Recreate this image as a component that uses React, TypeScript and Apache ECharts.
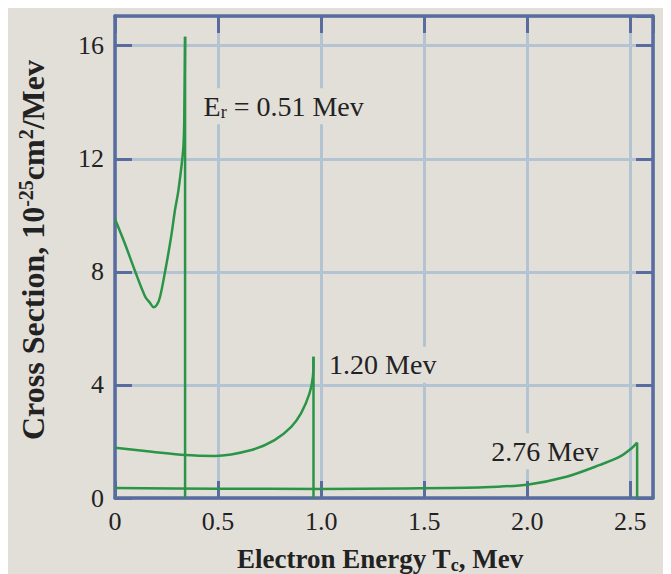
import React, { useEffect, useRef } from 'react';
import * as echarts from 'echarts';

const xTickValues = [0, 0.5, 1, 1.5, 2, 2.5];
const xTickLabels = ['0', '0.5', '1.0', '1.5', '2.0', '2.5'];
const yTickValues = [0, 4, 8, 12, 16];
const yTickLabels = ['0', '4', '8', '12', '16'];

// E_r = 0.51 Mev (last point: drop at the Compton edge)
const curve051: [number, number][] = [
  [0, 9.87], [0.05, 8.96], [0.098, 8.01], [0.146, 7.13], [0.171, 6.89], [0.187, 6.75],
  [0.203, 6.83], [0.219, 7.13], [0.243, 8.01], [0.259, 8.66], [0.275, 9.37], [0.291, 10.19],
  [0.308, 10.9], [0.332, 12.44], [0.337, 14.09], [0.34, 16.32], [0.34, 0],
];
// 1.20 Mev
const curve120: [number, number][] = [
  [0, 1.78], [0.179, 1.64], [0.34, 1.52], [0.485, 1.49], [0.662, 1.7], [0.774, 2.05],
  [0.855, 2.52], [0.903, 3.0], [0.944, 3.71], [0.96, 4.29], [0.963, 5.0], [0.963, 0],
];
// 2.76 Mev
const curve276: [number, number][] = [
  [0, 0.35], [0.5, 0.33], [1.0, 0.32], [1.39, 0.34], [1.79, 0.38], [2.006, 0.48],
  [2.19, 0.75], [2.353, 1.17], [2.449, 1.46], [2.506, 1.76], [2.533, 1.96], [2.533, 0],
];

const annotationText = ['E{sub|r} = 0.51 Mev', '1.20 Mev', '2.76 Mev'];
const annotationPos: [number, number][] = [[0.42, 13.86], [1.029, 4.71], [1.816, 1.65]];

const BG = '#e2dfd9';
const BORDER = '#586ca0';
const GRID = '#b4c3d2';
const GREEN = '#2a9447';
const TEXT = '#222222';
const FONT = '"Liberation Serif", "DejaVu Serif", serif';

const fmt = (vals: number[], labels: string[]) => (v: number) => {
  const i = vals.findIndex((t) => Math.abs(t - v) < 1e-6);
  return i >= 0 ? labels[i] : '';
};

export default function App() {
  const ref = useRef<HTMLDivElement>(null);
  useEffect(() => {
    document.documentElement.style.overflow = 'hidden';
    document.body.style.overflow = 'hidden';
    const chart = echarts.init(ref.current!, null, { renderer: 'svg' });
    const borderLine = { onZero: false, lineStyle: { color: BORDER, width: 3.5 } };
    const ticks = { inside: true, length: 17, lineStyle: { color: BORDER, width: 3 } };
    const series: any[] = [];
    [curve051, curve120, curve276].forEach((d, i) => {
      series.push({
        type: 'line',
        data: d.slice(0, -1),
        showSymbol: false,
        symbol: 'none',
        smooth: 0.3,
        lineStyle: { color: GREEN, width: 2.5 },
        z: 3,
        markPoint: {
          symbol: 'circle',
          symbolSize: 0,
          z: 1,
          data: [{ coord: annotationPos[i], value: 0 }],
          label: {
            show: true,
            position: 'right',
            distance: 0,
            formatter: annotationText[i],
            fontFamily: FONT,
            fontSize: 28,
            color: TEXT,
            lineHeight: 30,
            backgroundColor: BG,
            padding: [3, 2, 3, 2],
            rich: {
              sub: { fontFamily: FONT, fontSize: 18, color: TEXT, verticalAlign: 'bottom', lineHeight: 18 },
            },
          },
        },
      });
      series.push({
        type: 'line',
        data: d.slice(-2),
        showSymbol: false,
        symbol: 'none',
        lineStyle: { color: GREEN, width: 2.5 },
        z: 3,
      });
    });
    chart.setOption({
      animation: false,
      backgroundColor: BG,
      grid: { left: 105, top: 8, right: 26, bottom: 84, containLabel: false },
      xAxis: [
        {
          type: 'value', min: 0, max: 2.61, interval: 0.5, position: 'bottom',
          axisLine: { show: true, ...borderLine }, axisTick: ticks,
          splitLine: { show: true, lineStyle: { color: GRID, width: 3 } },
          axisLabel: {
            formatter: fmt(xTickValues, xTickLabels), fontFamily: FONT, fontSize: 26,
            color: TEXT, margin: 10, showMaxLabel: false,
          },
          name: 'Electron Energy T{sub|c}, Mev',
          nameLocation: 'middle',
          nameGap: 46,
          nameTextStyle: {
            fontFamily: FONT, fontWeight: 'bold', fontSize: 27, color: TEXT, lineHeight: 30,
            padding: [0, 8, 0, 0],
            rich: { sub: { fontFamily: FONT, fontWeight: 'bold', fontSize: 18, color: TEXT, verticalAlign: 'bottom', lineHeight: 18 } },
          },
        },
        {
          type: 'value', min: 0, max: 2.61, interval: 0.5, position: 'top',
          axisLine: { show: true, ...borderLine }, axisTick: ticks,
          splitLine: { show: false }, axisLabel: { show: false },
        },
      ],
      yAxis: [
        {
          type: 'value', min: 0, max: 17.05, interval: 4, position: 'left',
          axisLine: { show: true, ...borderLine }, axisTick: ticks,
          splitLine: { show: true, lineStyle: { color: GRID, width: 3 } },
          axisLabel: {
            formatter: fmt(yTickValues, yTickLabels), fontFamily: FONT, fontSize: 26,
            color: TEXT, margin: 11, showMaxLabel: false,
          },
          name: 'Cross Section, 10{sup|-25}cm{sup|2}/Mev',
          nameLocation: 'middle',
          nameRotate: 90,
          nameGap: 65,
          nameTextStyle: {
            fontFamily: FONT, fontWeight: 'bold', fontSize: 32, color: TEXT, lineHeight: 34,
            padding: [0, 0, 0, 14],
            rich: { sup: { fontFamily: FONT, fontWeight: 'bold', fontSize: 20, color: TEXT, verticalAlign: 'top', lineHeight: 20 } },
          },
        },
        {
          type: 'value', min: 0, max: 17.05, interval: 4, position: 'right',
          axisLine: { show: true, ...borderLine }, axisTick: ticks,
          splitLine: { show: false }, axisLabel: { show: false },
        },
      ],
      series,
    });
    return () => chart.dispose();
  }, []);
  return <div ref={ref} style={{ width: 671, height: 574, background: BG }} />;
}
